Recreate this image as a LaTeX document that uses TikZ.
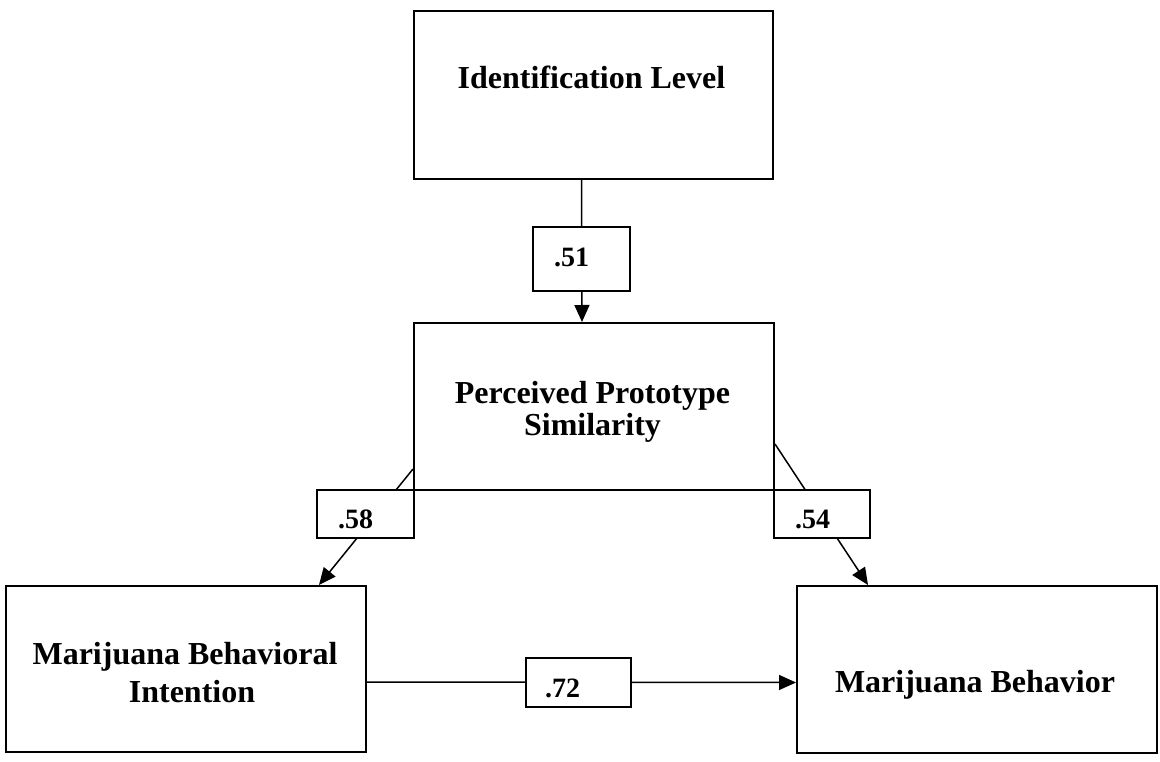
\documentclass[tikz,border=0pt]{standalone}
\usepackage{fontspec}
\setmainfont{Liberation Serif}
\usetikzlibrary{arrows.meta,calc}
\begin{document}
\begin{tikzpicture}[x=1pt,y=-1pt,
  box/.style={draw, line width=2pt, inner sep=0pt, minimum width=360pt, minimum height=167pt},
  txt/.style={font=\bfseries\fontsize{32}{36}\selectfont, anchor=base, inner sep=0pt},
  conn/.style={line width=1.5pt},
  arr/.style={conn, -{Triangle[length=17pt,width=15pt]}},
  lab/.style={draw, fill=white, line width=2pt, font=\bfseries\fontsize{28}{32}\selectfont,
    align=left, inner xsep=21pt, inner ysep=0pt, text height=29pt, text depth=0pt,
    minimum height=48pt}]
\useasboundingbox (0,0) rectangle (1160,762);

% construct boxes
\node[box, minimum width=359pt, minimum height=168pt] (id) at (593.5,95) {};
\node[box] (pps) at (594,406.5) {};
\node[box, minimum height=166pt] (mbi) at (186,669) {};
\node[box] (mb) at (977,669.5) {};

% box texts
\node[txt] (idt) at (591.5,89) {Identification Level};
\node[txt] (ppst1) at (592.5,403) {Perceived Prototype};
\node[txt] (ppst2) at (592.5,435) {Similarity};
\node[txt] (mbit1) at (185,664) {Marijuana Behavioral};
\node[txt] (mbit2) at (192,702) {Intention};
\node[txt] (mbt) at (975,692) {Marijuana Behavior};

% paths
\draw[arr] ($(id.south)+(-12,0)$) -- ($(pps.north)+(-12,0)$);
\draw[arr] ($(pps.south west)+(0,-22)$) -- ($(mbi.north east)+(-48,0)$);
\draw[arr] ($(pps.south east)+(0,-47)$) -- ($(mb.north west)+(72,0)$);
\draw[arr] ($(mbi.east)+(0,13)$) -- ($(mb.west)+(0,13)$);

% path coefficients
\node[lab, text width=55pt, minimum height=64pt, text height=19pt, text depth=4pt] (l51) at (581.5,259) {.51};
\node[lab, text width=55pt] (l58) at (365.5,514) {.58};
\node[lab, text width=54pt] (l54) at (822,514) {.54};
\node[lab, inner xsep=19pt, text width=67pt, minimum height=49pt] (l72) at (578.5,682.5) {.72};
\end{tikzpicture}
\end{document}
